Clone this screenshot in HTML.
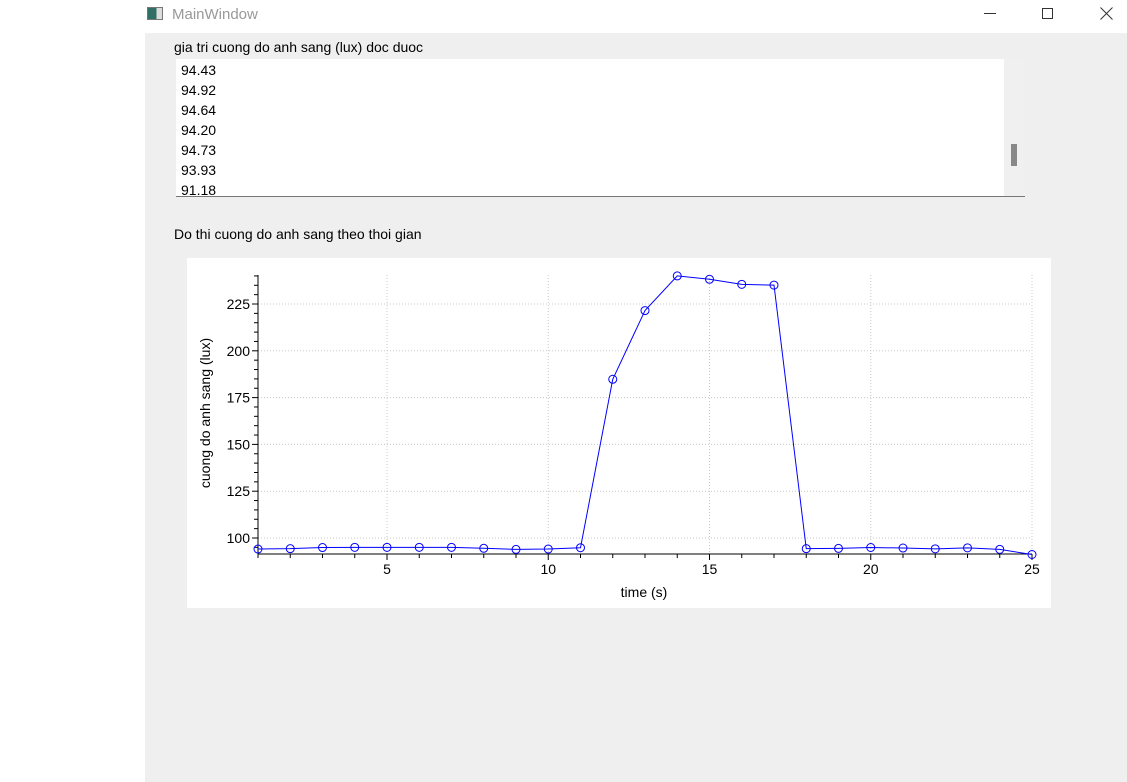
<!DOCTYPE html>
<html><head><meta charset="utf-8"><style>
body{margin:0;width:1127px;height:782px;background:#fff;position:relative;overflow:hidden;font-family:"Liberation Sans",sans-serif;}
.abs{position:absolute;}
</style></head><body>
<div class="abs" style="left:145px;top:0;width:982px;height:33px;background:#fff;">
  <div class="abs" style="left:2px;top:7px;width:16px;height:13px;border:1px solid #777;background:linear-gradient(90deg,#2f6f66 60%,#ddd 60%);box-sizing:border-box"></div>
  <div class="abs" style="left:27px;top:6px;font-size:15px;color:#999">MainWindow</div>
  <div class="abs" style="left:839px;top:13px;width:12px;height:1px;background:#333"></div>
  <div class="abs" style="left:897px;top:8px;width:11px;height:11px;border:1px solid #333;box-sizing:border-box"></div>
  <svg class="abs" style="left:955px;top:7px" width="13" height="13"><path d="M0.5 0.5L12.5 12.5M12.5 0.5L0.5 12.5" stroke="#333" stroke-width="1"/></svg>
</div>
<div class="abs" style="left:145px;top:33px;width:982px;height:749px;background:#efefef;"></div>
<div class="abs" style="left:174px;top:39px;font-size:14px;color:#000">gia tri cuong do anh sang (lux) doc duoc</div>
<div class="abs" style="left:176px;top:59px;width:849px;height:137px;background:#fff;border-bottom:1px solid #777;overflow:hidden;font-size:14px;line-height:20px;">
  <div style="padding-left:5px;padding-top:1px">
  <div>94.43</div>
  <div>94.92</div>
  <div>94.64</div>
  <div>94.20</div>
  <div>94.73</div>
  <div>93.93</div>
  <div>91.18</div>
  </div>
  <div class="abs" style="left:828px;top:0;width:21px;height:137px;background:#f0f0f0;">
    <div class="abs" style="left:7px;top:85px;width:6px;height:22px;background:#888"></div>
  </div>
</div>
<div class="abs" style="left:174px;top:226px;font-size:14px;color:#000">Do thi cuong do anh sang theo thoi gian</div>
<svg class="abs" style="left:0;top:0" width="1127" height="782" font-family="Liberation Sans, sans-serif">
<rect x="187" y="258" width="864" height="350" fill="#fff"/>
<g id="grid"></g><g id="axes"></g><g id="series"></g>
<text x="644" y="597" font-size="14" text-anchor="middle">time (s)</text>
<text transform="translate(210,413) rotate(-90)" font-size="14" text-anchor="middle">cuong do anh sang (lux)</text>
</svg>
<script>
const xValues=[1,2,3,4,5,6,7,8,9,10,11,12,13,14,15,16,17,18,19,20,21,22,23,24,25];
const yValues=[94.1,94.3,94.9,95.0,95.0,95.0,95.0,94.5,93.9,94.1,94.8,184.8,221.5,240.0,238.2,235.5,235.1,94.3,94.43,94.92,94.64,94.20,94.73,93.93,91.18];
const xTicks=[5,10,15,20,25];
const yTicks=[100,125,150,175,200,225];
const X0=258,X1=1032,Y0=554,Y1=275,xmin=1,xmax=25,ymin=91.45,ymax=240.5;
const sx=v=>X0+(v-xmin)/(xmax-xmin)*(X1-X0);
const sy=v=>Y0-(v-ymin)/(ymax-ymin)*(Y0-Y1);
const NS="http://www.w3.org/2000/svg";
function mk(t,a,p){const e=document.createElementNS(NS,t);for(const k in a)e.setAttribute(k,a[k]);p.appendChild(e);return e;}
const grid=document.getElementById('grid'),axes=document.getElementById('axes'),ser=document.getElementById('series');
xTicks.forEach(t=>{const e=mk('line',{x1:sx(t),x2:sx(t),y1:Y1,y2:Y0,stroke:'#c8c8c8','stroke-dasharray':'1 2'},grid);


const l=mk('text',{x:sx(t),y:Y0+20,'font-size':14,'text-anchor':'middle'},axes);l.textContent=t;

});
yTicks.forEach(t=>{const e=mk('line',{x1:X0,x2:X1,y1:sy(t),y2:sy(t),stroke:'#c8c8c8','stroke-dasharray':'1 2'},grid);


const l=mk('text',{x:X0-8,y:sy(t)+5,'font-size':14,'text-anchor':'end'},axes);l.textContent=t;

});
for(let v=xmin;v<=xmax;v++){mk('line',{x1:sx(v),x2:sx(v),y1:Y0,y2:Y0+(v%5==0?6:4),stroke:'#000'},axes);}
for(let v=95;v<=240;v+=5){mk('line',{x1:X0,x2:X0-(v%25==0?6:4),y1:sy(v),y2:sy(v),stroke:'#000'},axes);}
const xa=mk('line',{x1:X0,x2:X1,y1:Y0,y2:Y0,stroke:'#000'},axes);


const ya=mk('line',{x1:X0,x2:X0,y1:Y1,y2:Y0,stroke:'#000'},axes);


const pl=mk('polyline',{points:xValues.map((x,i)=>sx(x)+','+sy(yValues[i])).join(' '),fill:'none',stroke:'#0000ff','stroke-width':1},ser);


xValues.forEach((x,i)=>{const c=mk('circle',{cx:sx(x),cy:sy(yValues[i]),r:4,fill:'none',stroke:'#0000ff'},ser);

});
</script>
</body></html>
